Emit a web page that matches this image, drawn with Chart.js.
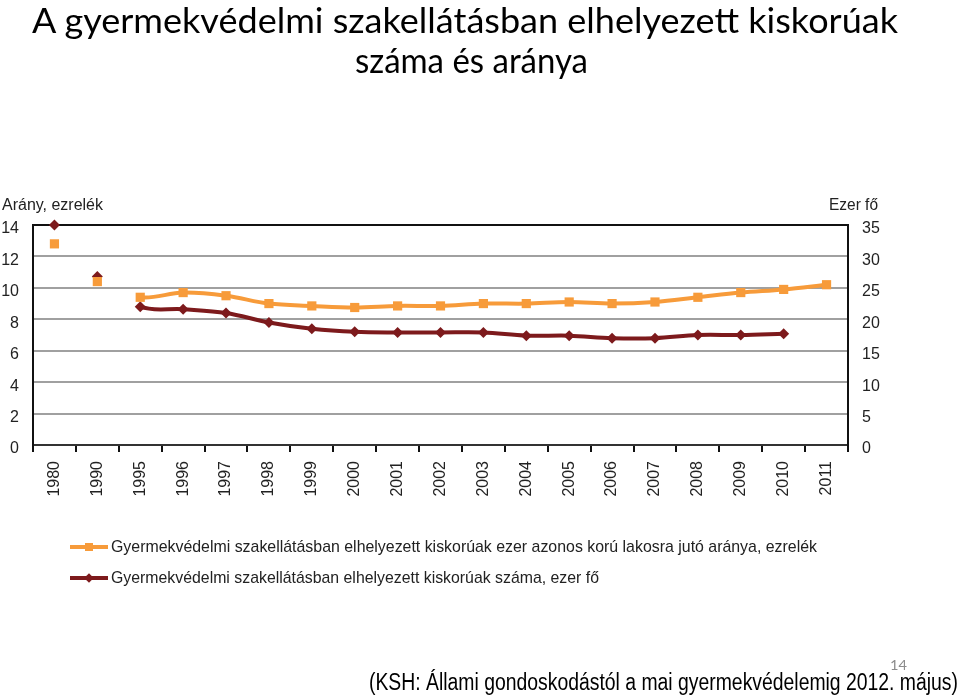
<!DOCTYPE html>
<html>
<head>
<meta charset="utf-8">
<script src="https://cdn.jsdelivr.net/npm/chart.js@4/dist/chart.umd.min.js"></script>
<style>
  html, body { margin: 0; padding: 0; background: #fff; }
  body { width: 960px; height: 697px; position: relative; overflow: hidden; }
  #c { position: absolute; left: 0; top: 0; }
  .t { position: absolute; white-space: nowrap; transform-origin: 0 0; line-height: 1; }
  .title { font-family: Lato, "Open Sans", sans-serif; font-size: 35px; color: #000; }
  .ax { font-family: "Liberation Sans", Arial, sans-serif; font-size: 16px; color: #222; }
  .leg { font-family: "Liberation Sans Narrow", "Liberation Sans", Arial, sans-serif; font-size: 17px; color: #222; }
  .foot { font-family: "Liberation Sans", Arial, sans-serif; font-size: 23px; color: #000; }
  .pg { font-family: Lato, sans-serif; font-size: 14px; color: #8c8c8c; }
  .legline { position: absolute; height: 4px; }
  .legmark { position: absolute; }
</style>
</head>
<body>
<canvas id="c" width="960" height="697"></canvas>
<div id="overlay"></div>
<script>
// ---- data ----
const years = ['1980','1990','1995','1996','1997','1998','1999','2000','2001','2002','2003','2004','2005','2006','2007','2008','2009','2010','2011'];
const ratioPerMille = [12.8,10.4,9.4,9.7,9.5,9.0,8.85,8.75,8.85,8.85,9.0,9.0,9.1,9.0,9.1,9.4,9.7,9.9,10.2];
const countThousand = [35.0,26.8,22.0,21.6,21.0,19.5,18.5,18.0,17.9,17.9,17.9,17.4,17.4,17.0,17.0,17.5,17.5,17.7,null];
const leftTicks = [0,2,4,6,8,10,12,14];
const rightTicks = [0,5,10,15,20,25,30,35];
const seriesLabels = [
  'Gyermekvédelmi szakellátásban elhelyezett kiskorúak ezer azonos korú lakosra jutó aránya, ezrelék',
  'Gyermekvédelmi szakellátásban elhelyezett kiskorúak száma, ezer fő'
];
const titleLines = ['A gyermekvédelmi szakellátásban elhelyezett kiskorúak', 'száma és aránya'];
const leftAxisTitle = 'Arány, ezrelék';
const rightAxisTitle = 'Ezer fő';
const sourceNote = '(KSH: Állami gondoskodástól a mai gyermekvédelemig 2012. május)';
const pageNumber = '14';

const ORANGE = '#F79B3A';
const DARKRED = '#7D1A1C';
const isolated = 2; // first points not joined by the line

const gapSeg = (color) => ({
  borderColor: ctx => (ctx.p0DataIndex < isolated ? 'rgba(0,0,0,0)' : color)
});

new Chart(document.getElementById('c'), {
  type: 'line',
  data: {
    labels: years,
    datasets: [
      {
        label: seriesLabels[0],
        data: ratioPerMille,
        yAxisID: 'y',
        borderColor: ORANGE,
        backgroundColor: ORANGE,
        borderWidth: 4,
        pointStyle: 'rect',
        pointRadius: 6.5,
        pointBorderWidth: 0,
        pointBackgroundColor: ORANGE,
        tension: 0.35,
        clip: false,
        segment: gapSeg(ORANGE)
      },
      {
        label: seriesLabels[1],
        data: countThousand,
        yAxisID: 'y1',
        borderColor: DARKRED,
        backgroundColor: DARKRED,
        borderWidth: 4,
        pointStyle: 'rectRot',
        pointRadius: 5.5,
        pointBorderWidth: 0,
        pointBackgroundColor: DARKRED,
        tension: 0.35,
        spanGaps: false,
        clip: false,
        segment: gapSeg(DARKRED)
      }
    ]
  },
  options: {
    responsive: false,
    animation: false,
    devicePixelRatio: 1,
    layout: { padding: { top: 225, bottom: 192, left: 0, right: 0 } },
    plugins: { legend: { display: false }, title: { display: false }, tooltip: { enabled: false } },
    scales: {
      x: {
        type: 'category',
        offset: true,
        grid: { offset: true, drawOnChartArea: false, drawTicks: true, tickLength: 7, color: '#111', lineWidth: 2 },
        border: { color: '#333', width: 2 },
        ticks: {
          minRotation: 90, maxRotation: 90, autoSkip: false, padding: 9,
          color: '#222', font: { family: 'Liberation Sans', size: 16 }
        },
        afterFit: s => { s.height = 60; }
      },
      y: {
        position: 'left',
        min: 0, max: 14,
        afterBuildTicks: s => { s.ticks = leftTicks.map(v => ({ value: v })); },
        grid: {
          drawTicks: false,
          lineWidth: 2,
          color: ctx => (ctx.tick && ctx.tick.value === 14 ? '#111' : (ctx.tick && ctx.tick.value === 0 ? '#333' : '#a0a0a0'))
        },
        border: { color: '#111', width: 2 },
        ticks: { padding: 14, labelOffset: 4, color: '#222', font: { family: 'Liberation Sans', size: 16 } },
        afterFit: s => { s.width = 33; }
      },
      y1: {
        position: 'right',
        min: 0, max: 35,
        afterBuildTicks: s => { s.ticks = rightTicks.map(v => ({ value: v })); },
        grid: { drawOnChartArea: false, drawTicks: false },
        border: { color: '#111', width: 2 },
        ticks: { padding: 14, labelOffset: 4, color: '#222', font: { family: 'Liberation Sans', size: 16 } },
        afterFit: s => { s.width = 112; }
      }
    }
  }
});

// ---- text overlay ----
const ov = document.getElementById('overlay');
function addText(cls, text, left, top, targetW) {
  const d = document.createElement('div');
  d.className = 't ' + cls;
  d.textContent = text;
  d.style.left = left + 'px';
  d.style.top = top + 'px';
  ov.appendChild(d);
  if (targetW) {
    const w = d.getBoundingClientRect().width;
    if (w > 0) d.style.transform = 'scaleX(' + (targetW / w) + ')';
  }
  return d;
}
addText('title', titleLines[0], 32, 2, 866);
addText('title', titleLines[1], 355, 42, 233);
addText('ax', leftAxisTitle, 2, 197, 101);
addText('ax', rightAxisTitle, 829, 197, 49);

// legend
const legColors = [ORANGE, DARKRED];
const legY = [547, 578];
seriesLabels.forEach((lab, i) => {
  const ln = document.createElement('div');
  ln.className = 'legline';
  ln.style.left = '70px'; ln.style.width = '38px';
  ln.style.top = (legY[i] - 2) + 'px';
  ln.style.background = legColors[i];
  ov.appendChild(ln);
  const mk = document.createElement('div');
  mk.className = 'legmark';
  mk.style.width = '8px'; mk.style.height = '8px';
  mk.style.left = '85px'; mk.style.top = (legY[i] - 4) + 'px';
  mk.style.background = legColors[i];
  if (i === 1) mk.style.transform = 'rotate(45deg) scale(0.85)';
  ov.appendChild(mk);
  addText('leg', lab, 111, legY[i] - 9, i === 0 ? 706 : 488);
});

addText('foot', sourceNote, 369, 671, 589);
addText('pg', pageNumber, 890, 658, 17);
</script>
</body>
</html>
